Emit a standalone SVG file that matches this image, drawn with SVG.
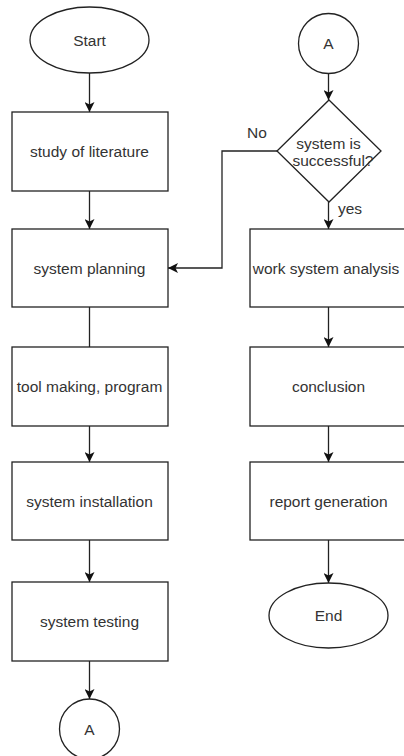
<svg xmlns="http://www.w3.org/2000/svg" width="404" height="756" viewBox="0 0 404 756">
<style>
.s{fill:#fff;stroke:#222;stroke-width:1.3}
.t{font-family:"Liberation Sans",Arial,sans-serif;font-size:15.5px;fill:#333;text-anchor:middle}
.c{fill:none;stroke:#222;stroke-width:1.3}
</style>
<defs>
<marker id="ah" viewBox="0 0 10 10" refX="10" refY="5" markerWidth="10" markerHeight="10" markerUnits="userSpaceOnUse" orient="auto">
<path d="M0,0 L10,5 L0,10 L2.5,5 Z" fill="#111"/>
</marker>
</defs>
<rect width="404" height="756" fill="#fff"/>
<g id="connectors">
<path class="c" d="M89.5,73 V112" marker-end="url(#ah)"/>
<path class="c" d="M89.5,191 V229" marker-end="url(#ah)"/>
<path class="c" d="M89.5,307 V347"/>
<path class="c" d="M89.5,426 V462" marker-end="url(#ah)"/>
<path class="c" d="M89.5,540 V582" marker-end="url(#ah)"/>
<path class="c" d="M89.5,661 V699" marker-end="url(#ah)"/>
<path class="c" d="M328.5,73 V100" marker-end="url(#ah)"/>
<path class="c" d="M277,151 H222 V268 H168" marker-end="url(#ah)"/>
<path class="c" d="M328.5,202 V229" marker-end="url(#ah)"/>
<path class="c" d="M328.5,307 V347" marker-end="url(#ah)"/>
<path class="c" d="M328.5,426 V462" marker-end="url(#ah)"/>
<path class="c" d="M328.5,540 V583" marker-end="url(#ah)"/>
<text class="t" x="257" y="138">No</text>
<text class="t" x="350" y="214">yes</text>
</g>
<g id="start"><ellipse class="s" cx="89.5" cy="40" rx="59.5" ry="33"/><text class="t" x="89.5" y="45.5">Start</text></g>
<g id="study"><rect class="s" x="12" y="112" width="156" height="79"/><text class="t" x="89.5" y="157">study of literature</text></g>
<g id="planning"><rect class="s" x="12" y="229" width="156" height="78"/><text class="t" x="89.5" y="273.5">system planning</text></g>
<g id="toolmaking"><rect class="s" x="12" y="347" width="156" height="79"/><text class="t" x="89.5" y="392">tool making, program</text></g>
<g id="installation"><rect class="s" x="12" y="462" width="156" height="78"/><text class="t" x="89.5" y="506.5">system installation</text></g>
<g id="testing"><rect class="s" x="12" y="582" width="156" height="79"/><text class="t" x="89.5" y="627">system testing</text></g>
<g id="connectorA1"><circle class="s" cx="89.5" cy="729" r="30"/><text class="t" x="89.5" y="734.5">A</text></g>
<g id="connectorA2"><circle class="s" cx="328.5" cy="43.5" r="30"/><text class="t" x="328.5" y="49">A</text></g>
<g id="decision"><path class="s" d="M329,100 L381,151 L329,202 L277,151 Z"/><text class="t" x="328.5" y="149">system is</text><text class="t" x="333" y="166">successful?</text></g>
<g id="analysis"><rect class="s" x="250" y="229" width="156" height="78"/><text class="t" x="326" y="273.5">work system analysis</text></g>
<g id="conclusion"><rect class="s" x="250" y="347" width="156" height="79"/><text class="t" x="328.5" y="392">conclusion</text></g>
<g id="report"><rect class="s" x="250" y="462" width="156" height="78"/><text class="t" x="328.5" y="506.5">report generation</text></g>
<g id="end"><ellipse class="s" cx="328.5" cy="615.5" rx="59.5" ry="32.5"/><text class="t" x="328.5" y="621">End</text></g>
</svg>
